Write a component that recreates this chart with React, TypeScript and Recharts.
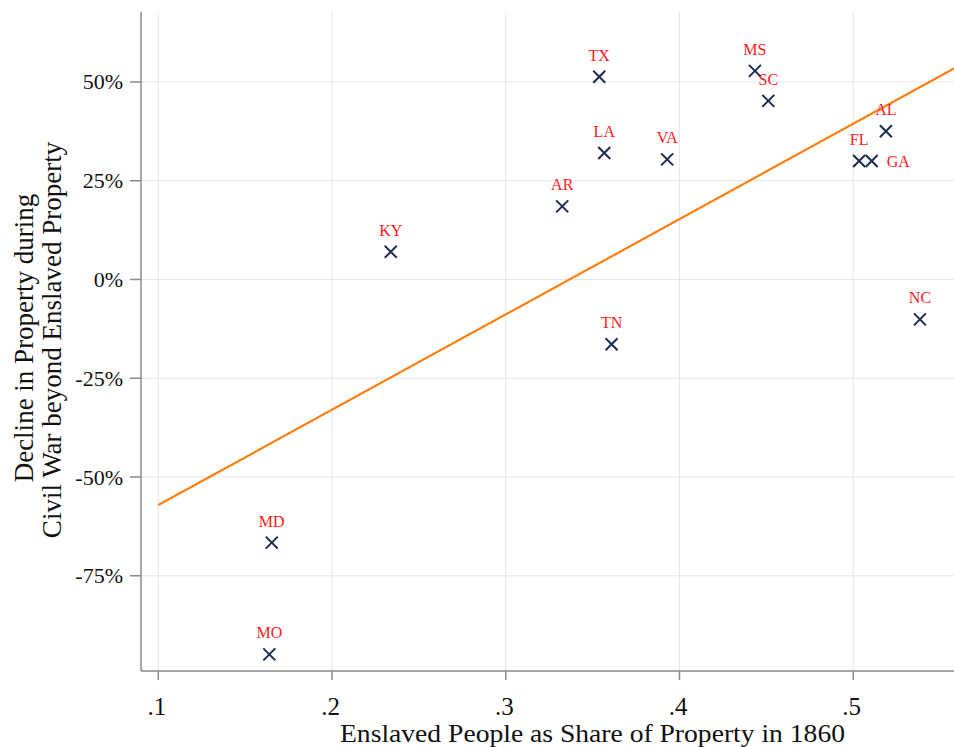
import React from "react";
import {
  ComposedChart,
  Scatter,
  XAxis,
  YAxis,
  CartesianGrid,
} from "recharts";

const states = ["TX", "MS", "SC", "LA", "VA", "AR", "FL", "GA", "AL", "KY", "TN", "NC", "MD", "MO"];
const slaveShare = [0.3538, 0.4434, 0.4511, 0.3567, 0.3929, 0.3325, 0.5034, 0.5106, 0.5188, 0.2338, 0.3609, 0.5384, 0.1653, 0.1639];
const declinePct = [51.3, 52.8, 45.2, 32.0, 30.4, 18.5, 30.0, 30.0, 37.5, 7.0, -16.4, -10.1, -66.6, -94.9];
const labelSide = ["top", "top", "top", "top", "top", "top", "top", "right", "top", "top", "top", "top", "top", "top"];

const fitX = [0.1, 0.558];
const fitY = [-57.1, 53.4];

const xTicks = [0.1, 0.2, 0.3, 0.4, 0.5];
const yTicks = [-75, -50, -25, 0, 25, 50];

const points = states.map((s, i) => ({
  x: slaveShare[i],
  y: declinePct[i],
  name: s,
  side: labelSide[i],
}));
const fitData = fitX.map((x, i) => ({ x, y: fitY[i] }));

const FONT = "'Liberation Serif', 'Times New Roman', serif";
const AXIS_COLOR = "#8a8a8a";

const MarkerShape = (props: any) => {
  const { cx, cy, payload } = props;
  if (cx == null || cy == null) return null;
  const r = 6;
  const isRight = payload.side === "right";
  return (
    <g>
      <path
        d={`M${cx - r},${cy - r}L${cx + r},${cy + r}M${cx - r},${cy + r}L${cx + r},${cy - r}`}
        stroke="#1c2b52"
        strokeWidth={2}
        fill="none"
      />
      <text
        x={isRight ? cx + 15 : cx}
        y={isRight ? cy + 6 : cy - 16}
        textAnchor={isRight ? "start" : "middle"}
        fill="#ff1a1a"
        fontSize={16}
        fontFamily={FONT}
      >
        {payload.name}
      </text>
    </g>
  );
};

const NoShape = () => null;

const YTick = (props: any) => {
  const { x, y, payload } = props;
  return (
    <text x={x} y={y} dy={7.5} textAnchor="end" fill="#111" fontSize={22} fontFamily={FONT}>
      {`${payload.value}%`}
    </text>
  );
};

const XTick = (props: any) => {
  const { x, y, payload } = props;
  const label = String(payload.value).replace(/^0/, "");
  return (
    <text x={x - 1.5} y={y} dy={35} textAnchor="middle" fill="#111" fontSize={25} fontFamily={FONT}>
      {label}
    </text>
  );
};

const XTitle = (props: any) => {
  const { viewBox } = props;
  return (
    <text
      x={340}
      y={742}
      textAnchor="start"
      fill="#111"
      fontSize={26}
      fontFamily={FONT}
      textLength={505}
      lengthAdjust="spacingAndGlyphs"
    >
      Enslaved People as Share of Property in 1860
    </text>
  );
};

const YTitle = () => {
  return (
    <g>
      <text
        transform="translate(33,338) rotate(-90)"
        textAnchor="middle"
        fill="#111"
        fontSize={27}
        fontFamily={FONT}
      >
        Decline in Property during
      </text>
      <text
        transform="translate(61,340) rotate(-90)"
        textAnchor="middle"
        fill="#111"
        fontSize={27}
        fontFamily={FONT}
      >
        Civil War beyond Enslaved Property
      </text>
    </g>
  );
};

export default function App() {
  return (
    <div style={{ position: "absolute", left: 0, top: 0, width: 954, height: 747, background: "#fff" }}>
      <ComposedChart
        width={954}
        height={747}
        margin={{ top: 12, right: 0, left: 0, bottom: 0 }}
        style={{ fontFamily: FONT }}
      >
        <CartesianGrid stroke="#e6e6e6" strokeWidth={1} horizontalValues={yTicks} verticalValues={xTicks} />
        <XAxis
          type="number"
          dataKey="x"
          domain={[0.09004, 0.558]}
          ticks={xTicks}
          allowDataOverflow
          height={76}
          tickSize={9}
          tickMargin={0}
          stroke={AXIS_COLOR}
          strokeWidth={1.5}
          tick={<XTick />}
          label={<XTitle />}
        />
        <YAxis
          type="number"
          dataKey="y"
          domain={[-99.1, 67.7]}
          ticks={yTicks}
          allowDataOverflow
          width={141}
          tickSize={11}
          tickMargin={7}
          stroke={AXIS_COLOR}
          strokeWidth={1.5}
          tick={<YTick />}
          label={<YTitle />}
        />
        <Scatter
          data={fitData}
          line={{ stroke: "#ff7f0e", strokeWidth: 2.2 }}
          shape={<NoShape />}
          isAnimationActive={false}
        />
        <Scatter data={points} shape={<MarkerShape />} isAnimationActive={false} />
      </ComposedChart>
    </div>
  );
}
